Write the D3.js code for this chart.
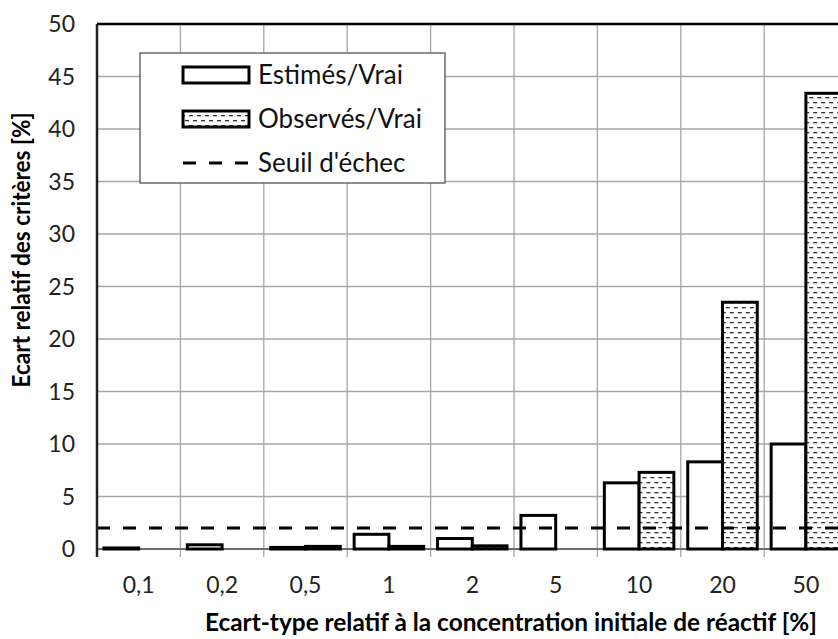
<!DOCTYPE html>
<html>
<head>
<meta charset="utf-8">
<script src="https://cdn.jsdelivr.net/npm/d3@7"></script>
<style>
  html, body { margin: 0; padding: 0; background: #fff; }
  svg { display: block; font-family: Lato, "Open Sans", sans-serif; }
</style>
</head>
<body>
<div id="chart"></div>
<script>
// Categories (relative std dev of initial concentration, %)
const categories = ["0,1", "0,2", "0,5", "1", "2", "5", "10", "20", "50"];
// Estimated / true
const estimes = [0.1, 0.4, 0.15, 1.4, 1.0, 3.2, 6.3, 8.3, 10.0];
// Observed / true
const observes = [0, 0, 0.25, 0.25, 0.3, 0, 7.3, 23.5, 43.4];
// Failure threshold
const seuil = 2;
const yTicks = [0, 5, 10, 15, 20, 25, 30, 35, 40, 45, 50];
const seriesNames = ["Estimés/Vrai", "Observés/Vrai", "Seuil d'échec"];

const width = 838, height = 639;
const margin = { top: 24, left: 97 };
const plotBottom = 549;
const step = 83.4;

const svg = d3.select("#chart").append("svg")
  .attr("width", width)
  .attr("height", height);

// pattern for observed bars (dashed horizontal)
const defs = svg.append("defs");
const pat = defs.append("pattern")
  .attr("id", "dashH")
  .attr("patternUnits", "userSpaceOnUse")
  .attr("width", 8)
  .attr("height", 10);
pat.append("rect").attr("width", 8).attr("height", 10).attr("fill", "#fff");
pat.append("rect").attr("x", 1).attr("y", 2).attr("width", 4).attr("height", 1.3).attr("fill", "#333");
pat.append("rect").attr("x", 5).attr("y", 7).attr("width", 4).attr("height", 1.3).attr("fill", "#333");
pat.append("rect").attr("x", -3).attr("y", 7).attr("width", 4).attr("height", 1.3).attr("fill", "#333");

const x = d3.scaleBand()
  .domain(categories)
  .range([margin.left, margin.left + step * categories.length]);

const xSub = d3.scaleBand()
  .domain(["est", "obs"])
  .range([0, x.bandwidth()])
  .paddingOuter(0.2);

const y = d3.scaleLinear()
  .domain([0, 50])
  .range([plotBottom, margin.top]);

const plotRight = x.range()[1];

// horizontal gridlines
svg.append("g")
  .selectAll("line")
  .data(yTicks.filter(d => d > 0 && d < 50))
  .join("line")
    .attr("x1", margin.left)
    .attr("x2", plotRight)
    .attr("y1", d => y(d))
    .attr("y2", d => y(d))
    .attr("stroke", "#a6a6a6")
    .attr("stroke-width", 1.3);

// vertical gridlines at category boundaries
svg.append("g")
  .selectAll("line")
  .data(categories.slice(1))
  .join("line")
    .attr("x1", d => x(d))
    .attr("x2", d => x(d))
    .attr("y1", margin.top)
    .attr("y2", plotBottom + 8)
    .attr("stroke", "#a6a6a6")
    .attr("stroke-width", 1.3);

// y tick labels
svg.append("g")
  .selectAll("text")
  .data(yTicks)
  .join("text")
    .attr("x", 75)
    .attr("y", d => y(d))
    .attr("dy", "0.36em")
    .attr("text-anchor", "end")
    .attr("font-size", 23)
    .attr("fill", "#222")
    .text(d => d);

// x tick labels
svg.append("g")
  .selectAll("text")
  .data(categories)
  .join("text")
    .attr("x", d => x(d) + x.bandwidth() / 2)
    .attr("y", 593)
    .attr("text-anchor", "middle")
    .attr("font-size", 23)
    .attr("fill", "#222")
    .text(d => d);

// bottom axis line
svg.append("line")
  .attr("x1", margin.left).attr("x2", plotRight)
  .attr("y1", plotBottom).attr("y2", plotBottom)
  .attr("stroke", "#6e6e6e").attr("stroke-width", 2);

// bars
const groups = svg.append("g")
  .selectAll("g")
  .data(categories)
  .join("g")
    .attr("transform", d => `translate(${x(d)},0)`);

groups.append("rect")
  .attr("x", xSub("est"))
  .attr("width", xSub.bandwidth())
  .attr("y", (d, i) => y(estimes[i]))
  .attr("height", (d, i) => y(0) - y(estimes[i]))
  .attr("fill", "#fff")
  .attr("stroke", "#000")
  .attr("stroke-width", 3);

groups.append("rect")
  .attr("x", xSub("obs"))
  .attr("width", xSub.bandwidth())
  .attr("y", (d, i) => y(observes[i]))
  .attr("height", (d, i) => y(0) - y(observes[i]))
  .attr("fill", "url(#dashH)")
  .attr("stroke", "#000")
  .attr("stroke-width", 3);

// threshold line
svg.append("line")
  .attr("x1", margin.left).attr("x2", plotRight)
  .attr("y1", y(seuil)).attr("y2", y(seuil))
  .attr("stroke", "#000")
  .attr("stroke-width", 3)
  .attr("stroke-dasharray", "13,13");

// left axis and top border
svg.append("line")
  .attr("x1", margin.left).attr("x2", margin.left)
  .attr("y1", margin.top).attr("y2", plotBottom + 8)
  .attr("stroke", "#222").attr("stroke-width", 2.5);
svg.append("line")
  .attr("x1", margin.left).attr("x2", plotRight)
  .attr("y1", margin.top).attr("y2", margin.top)
  .attr("stroke", "#000").attr("stroke-width", 2.5);

// legend
const lg = svg.append("g").attr("transform", "translate(140,53)");
lg.append("rect")
  .attr("width", 305).attr("height", 130)
  .attr("fill", "#fff").attr("stroke", "#555").attr("stroke-width", 1.3);
const rows = [22, 66, 110];
lg.append("rect")
  .attr("x", 43).attr("y", rows[0] - 8).attr("width", 66).attr("height", 16)
  .attr("fill", "#fff").attr("stroke", "#000").attr("stroke-width", 3);
lg.append("rect")
  .attr("x", 43).attr("y", rows[1] - 8).attr("width", 66).attr("height", 16)
  .attr("fill", "url(#dashH)").attr("stroke", "#000").attr("stroke-width", 3);
lg.append("line")
  .attr("x1", 43).attr("x2", 110).attr("y1", rows[2]).attr("y2", rows[2])
  .attr("stroke", "#000").attr("stroke-width", 3)
  .attr("stroke-dasharray", "13,13");
lg.selectAll("text.lbl")
  .data(seriesNames)
  .join("text")
    .attr("class", "lbl")
    .attr("x", 118)
    .attr("y", (d, i) => rows[i])
    .attr("dy", "0.36em")
    .attr("font-size", 26)
    .attr("fill", "#111")
    .text(d => d);

// axis titles
svg.append("text")
  .attr("x", 511).attr("y", 631)
  .attr("text-anchor", "middle")
  .attr("font-size", 24).attr("font-weight", "bold")
  .attr("textLength", 612).attr("lengthAdjust", "spacingAndGlyphs")
  .text("Ecart-type relatif à la concentration initiale de réactif [%]");

svg.append("text")
  .attr("transform", "translate(30,250) rotate(-90)")
  .attr("text-anchor", "middle")
  .attr("font-size", 24).attr("font-weight", "bold")
  .attr("textLength", 275).attr("lengthAdjust", "spacingAndGlyphs")
  .text("Ecart relatif des critères  [%]");
</script>
</body>
</html>
